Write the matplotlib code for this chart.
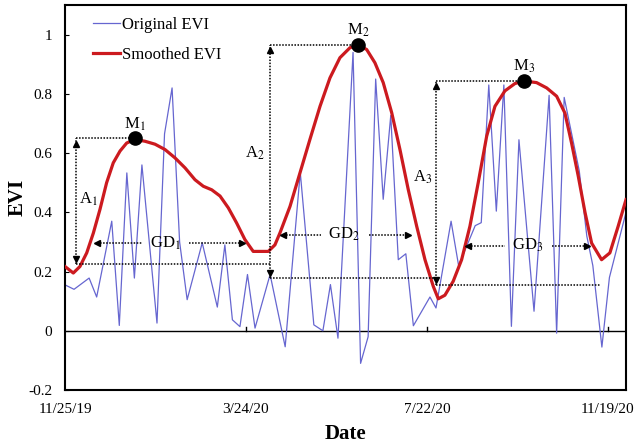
import numpy as np
import pandas as pd
import matplotlib
matplotlib.use("Agg")
import matplotlib.pyplot as plt

# ================= DATA =================
START = pd.Timestamp("2019-11-25")

# raw EVI observations (days after START)
orig_day = [0, 6, 16, 21, 31, 36, 41, 46, 51, 61, 66, 71, 76, 81, 91, 101, 106,
            111, 116, 121, 126, 136, 146, 156, 165, 171, 176, 181, 191, 196, 201,
            206, 211, 216, 221, 226, 231, 242, 246, 256, 261, 272, 276, 281, 286,
            291, 296, 301, 311, 321, 326, 331, 341, 346, 350, 356, 361, 372]
orig_evi = [0.155, 0.14, 0.178, 0.114, 0.37, 0.018, 0.533, 0.178, 0.56, 0.026,
            0.665, 0.82, 0.3, 0.105, 0.297, 0.08, 0.29, 0.037, 0.014, 0.19, 0.009,
            0.19, -0.054, 0.535, 0.02, 0.0, 0.156, -0.025, 0.94, -0.11, -0.02,
            0.85, 0.444, 0.727, 0.24, 0.26, 0.017, 0.114, 0.077, 0.37, 0.22,
            0.355, 0.365, 0.83, 0.404, 0.83, 0.015, 0.645, 0.066, 0.795, -0.008,
            0.788, 0.54, 0.32, 0.22, -0.055, 0.18, 0.4]

# smoothed EVI curve
smooth_day = [0, 5.5, 9.9, 14.4, 18.8, 23.2, 27.6, 32.0, 36.5, 40.9, 46.4, 53.0,
              59.7, 66.3, 72.9, 79.6, 86.2, 91.7, 97.3, 102.8, 108.3, 113.8,
              119.3, 124.8, 134.8, 139.2, 142.5, 149.2, 155.8, 162.4, 169.1,
              175.7, 182.3, 189.0, 194.5, 200.0, 205.5, 211.0, 216.6, 222.1,
              227.6, 233.2, 238.7, 244.2, 247.5, 251.9, 257.4, 263.0, 268.5,
              274.0, 279.6, 285.1, 291.7, 298.4, 305.0, 312.7, 319.4, 326.0,
              331.5, 335.9, 340.3, 344.8, 349.2, 355.8, 361.3, 366.8, 372.0]
smooth_evi = [0.217, 0.195, 0.217, 0.263, 0.33, 0.41, 0.50, 0.567, 0.607, 0.634,
              0.646, 0.64, 0.63, 0.612, 0.584, 0.55, 0.51, 0.488, 0.476, 0.455,
              0.415, 0.364, 0.308, 0.268, 0.268, 0.29, 0.33, 0.42, 0.533, 0.646,
              0.758, 0.854, 0.922, 0.956, 0.963, 0.95, 0.905, 0.838, 0.737,
              0.612, 0.477, 0.353, 0.24, 0.15, 0.108, 0.12, 0.167, 0.24, 0.353,
              0.5, 0.657, 0.758, 0.81, 0.835, 0.843, 0.838, 0.82, 0.792, 0.735,
              0.634, 0.523, 0.4, 0.296, 0.24, 0.263, 0.353, 0.443]

# season maxima M1..M3
peak_day = [46.4, 194.5, 304.3]
peak_evi = [0.65, 0.966, 0.845]
peak_names = ["M$_1$", "M$_2$", "M$_3$"]

# amplitude arrows A1..A3: x position, base level, end of base line
amp_day = [7.3, 135.9, 246.3]
amp_base = [0.226, 0.178, 0.153]
amp_base_end = [135.9, 246.0, 354.8]
amp_names = ["A$_1$", "A$_2$", "A$_3$"]
amp_label_day = [15.3, 126.0, 237.2]
amp_label_evi = [0.444, 0.60, 0.518]

# growth duration arrows GD1..GD3
gd_names = ["GD$_1$", "GD$_2$", "GD$_3$"]
gd_left = [21.0, 144.7, 267.4]
gd_left_end = [50.8, 169.6, 291.8]
gd_center = [66.3, 185.0, 307.0]
gd_right_start = [82.4, 201.4, 322.7]
gd_right = [117.1, 227.2, 345.9]
gd_evi = [0.297, 0.325, 0.287]

tick_day = [0, 120, 240, 360]
tick_labels = ["11/25/19", "3/24/20", "7/22/20", "11/19/20"]
y_ticks = [-0.2, 0, 0.2, 0.4, 0.6, 0.8, 1.0]
y_tick_labels = ["-0.2", "0", "0.2", "0.4", "0.6", "0.8", "1"]


def to_date(days):
    return START + pd.to_timedelta(np.asarray(days, dtype=float), unit="D")


def d1(day):
    return START + pd.Timedelta(days=float(day))


# ================= PLOT =================
plt.rcParams["font.family"] = ["Liberation Serif", "DejaVu Serif"]
plt.rcParams["mathtext.fontset"] = "stix"

BLUE = "#6666D0"
RED = "#CC1A1F"
DOT = (0, (1, 1))

fig = plt.figure(figsize=(6.36, 4.47), dpi=100)
ax = fig.add_axes([0.1022, 0.1275, 0.8821, 0.8613])

ax.axhline(0, color="black", linewidth=1.0, zorder=1)
for d in tick_day[1:]:
    ax.plot([d1(d), d1(d)], [0, 0.014], color="black", linewidth=1.0, zorder=1)

ax.plot(to_date(orig_day), orig_evi, color=BLUE, linewidth=0.9,
        label="Original EVI", zorder=2)
ax.plot(to_date(smooth_day), smooth_evi, color=RED, linewidth=2.3,
        solid_joinstyle="round", label="Smoothed EVI", zorder=3)

# amplitude guides
for i in range(3):
    x = d1(amp_day[i])
    ax.plot([x, x], [amp_base[i], peak_evi[i]], color="black", linewidth=1.1,
            linestyle=DOT, zorder=4)
    ax.plot([x, d1(peak_day[i])], [peak_evi[i], peak_evi[i]], color="black",
            linewidth=1.1, linestyle=DOT, zorder=4)
    ax.plot([x, d1(amp_base_end[i])], [amp_base[i], amp_base[i]], color="black",
            linewidth=1.1, linestyle=DOT, zorder=4)
    ax.plot([x], [peak_evi[i] - 0.018], marker="^", color="black", markersize=5,
            zorder=5)
    ax.plot([x], [amp_base[i] + 0.018], marker="v", color="black", markersize=5,
            zorder=5)
    ax.text(d1(amp_label_day[i]), amp_label_evi[i], amp_names[i], fontsize=12,
            ha="center", va="center")

# growth duration arrows
for i in range(3):
    y = gd_evi[i]
    ax.plot([d1(gd_left[i]), d1(gd_left_end[i])], [y, y], color="black",
            linewidth=1.1, linestyle=DOT, zorder=4)
    ax.plot([d1(gd_right_start[i]), d1(gd_right[i])], [y, y], color="black",
            linewidth=1.1, linestyle=DOT, zorder=4)
    ax.plot([d1(gd_left[i])], [y], marker="<", color="black", markersize=5, zorder=5)
    ax.plot([d1(gd_right[i])], [y], marker=">", color="black", markersize=5, zorder=5)
    ax.text(d1(gd_center[i]), y, gd_names[i], fontsize=12, ha="center", va="center")

# maxima
ax.plot(to_date(peak_day), peak_evi, linestyle="none", marker="o",
        color="black", markersize=9.5, zorder=6)
for i in range(3):
    ax.text(d1(peak_day[i]), peak_evi[i] + 0.048, peak_names[i], fontsize=12,
            ha="center", va="center")

ax.set_xlim(d1(0), d1(372))
ax.set_ylim(-0.2, 1.1)
ax.set_xticks(to_date(tick_day))
ax.set_xticklabels(tick_labels, fontsize=11)
ax.tick_params(axis="x", length=0, pad=9)
ax.set_yticks(y_ticks)
ax.set_yticklabels(y_tick_labels, fontsize=11)
ax.tick_params(axis="y", direction="in", length=3, pad=9)

for s in ax.spines.values():
    s.set_linewidth(1.5)

ax.set_xlabel("Date", fontsize=15, fontweight="bold")
ax.set_ylabel("EVI", fontsize=15, fontweight="bold")
ax.xaxis.set_label_coords(0.50, -0.088)
ax.yaxis.set_label_coords(-0.066, 0.50)

ax.legend(loc="upper left", bbox_to_anchor=(0.03, 1.0), frameon=False,
          fontsize=12, handlelength=1.6, handletextpad=0.1, labelspacing=0.85,
          borderaxespad=0.3)

fig.savefig("out.png", dpi=100)
